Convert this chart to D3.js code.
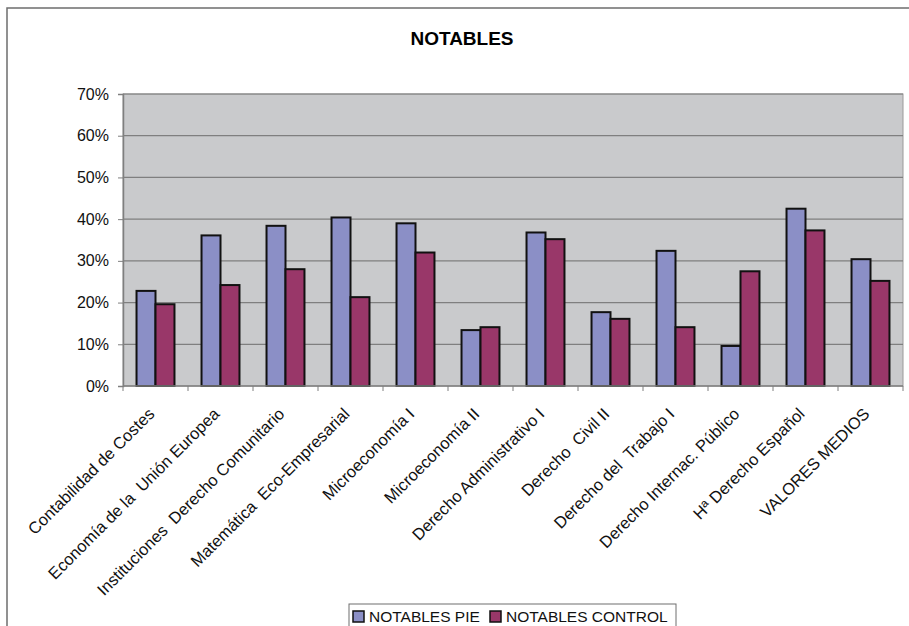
<!DOCTYPE html>
<html>
<head>
<meta charset="utf-8">
<script src="https://cdn.jsdelivr.net/npm/d3@7"></script>
<style>
  html, body { margin: 0; padding: 0; background: #fff; }
  svg { display: block; font-family: "Liberation Sans", Arial, sans-serif; }
  text { white-space: pre; }
</style>
</head>
<body>
<svg id="chart" width="909" height="626"></svg>
<script>
// Subjects shown on the x axis
const categories = [
  "Contabilidad de Costes",
  "Economía de la  Unión Europea",
  "Instituciones  Derecho Comunitario",
  "Matemática  Eco-Empresarial",
  "Microeconomía I",
  "Microeconomía II",
  "Derecho Administrativo I",
  "Derecho  Civil II",
  "Derecho del  Trabajo I",
  "Derecho Internac. Público",
  "Hª Derecho Español",
  "VALORES MEDIOS"
];
// Share of "notable" grades (%)
const notablesPie     = [22.8, 36.1, 38.4, 40.4, 39.0, 13.4, 36.8, 17.7, 32.4,  9.6, 42.5, 30.4];
const notablesControl = [19.6, 24.2, 28.0, 21.3, 32.0, 14.1, 35.2, 16.1, 14.1, 27.5, 37.3, 25.2];
const seriesNames = ["NOTABLES PIE", "NOTABLES CONTROL"];
const seriesColors = ["#8b8fc6", "#993769"];
const yTicks = [0, 10, 20, 30, 40, 50, 60, 70];

const svg = d3.select("#chart");

// outer chart frame
svg.append("rect")
  .attr("x", 7).attr("y", 8).attr("width", 920).attr("height", 640)
  .attr("fill", "none").attr("stroke", "#6e6e6e").attr("stroke-width", 1.5);

// title
svg.append("text")
  .attr("x", 462).attr("y", 45)
  .attr("text-anchor", "middle")
  .attr("font-size", 19).attr("font-weight", "bold")
  .text("NOTABLES");

const plot = { left: 123, right: 903, top: 94, bottom: 386 };

const x = d3.scaleBand()
  .domain(categories)
  .range([plot.left, plot.right])
  .paddingInner(0).paddingOuter(0);

const y = d3.scaleLinear()
  .domain([0, 70])
  .range([plot.bottom, plot.top]);

const barW = x.bandwidth() * 0.292;

// plot background
svg.append("rect")
  .attr("x", plot.left).attr("y", plot.top)
  .attr("width", plot.right - plot.left).attr("height", plot.bottom - plot.top)
  .attr("fill", "#c9cacc")
  .attr("stroke", "#9a9a9a").attr("stroke-width", 1);

// horizontal gridlines
svg.append("g")
  .selectAll("line")
  .data(yTicks.filter(t => t > 0))
  .join("line")
  .attr("x1", plot.left).attr("x2", plot.right)
  .attr("y1", d => y(d)).attr("y2", d => y(d))
  .attr("stroke", "#7f7f7f").attr("stroke-width", 1.2);

// bars
const groups = svg.append("g")
  .selectAll("g")
  .data(categories.map((c, i) => ({ c, vals: [notablesPie[i], notablesControl[i]] })))
  .join("g");

groups.selectAll("rect")
  .data(d => d.vals.map((v, k) => ({ c: d.c, v, k })))
  .join("rect")
  .attr("x", d => x(d.c) + x.bandwidth() / 2 - barW + d.k * barW)
  .attr("y", d => y(d.v))
  .attr("width", barW)
  .attr("height", d => y(0) - y(d.v))
  .attr("fill", d => seriesColors[d.k])
  .attr("stroke", "#111").attr("stroke-width", 2);

// y axis
const yAxis = svg.append("g")
  .attr("transform", `translate(${plot.left},0)`)
  .call(d3.axisLeft(y).tickValues(yTicks).tickFormat(d => d + "%").tickSize(5).tickPadding(9));
yAxis.select(".domain").attr("stroke", "#7f7f7f").attr("stroke-width", 1.5);
yAxis.selectAll(".tick line").attr("stroke", "#7f7f7f");
yAxis.selectAll("text").attr("font-size", 16).attr("fill", "#111")
  .attr("font-family", "Liberation Sans, Arial, sans-serif");

// x axis line and ticks at category boundaries
svg.append("line")
  .attr("x1", plot.left).attr("x2", plot.right)
  .attr("y1", plot.bottom).attr("y2", plot.bottom)
  .attr("stroke", "#7f7f7f").attr("stroke-width", 1.5);
const bounds = categories.map(c => x(c)).concat([x(categories[categories.length - 1]) + x.bandwidth()]);
svg.append("g").selectAll("line")
  .data(bounds)
  .join("line")
  .attr("x1", d => d).attr("x2", d => d)
  .attr("y1", plot.bottom).attr("y2", plot.bottom + 5)
  .attr("stroke", "#7f7f7f");

// rotated category labels
svg.append("g").selectAll("text")
  .data(categories)
  .join("text")
  .attr("transform", d => `translate(${x(d) + x.bandwidth() / 2},${plot.bottom + 29}) rotate(-45)`)
  .attr("text-anchor", "end")
  .attr("font-size", 16.5)
  .attr("fill", "#111")
  .text(d => d);

// legend
const lg = svg.append("g");
lg.append("rect")
  .attr("x", 349).attr("y", 604).attr("width", 327).attr("height", 40)
  .attr("fill", "#fff").attr("stroke", "#6e6e6e").attr("stroke-width", 1);
const legendX = [353, 490];
seriesNames.forEach((name, k) => {
  lg.append("rect")
    .attr("x", legendX[k]).attr("y", 611).attr("width", 11).attr("height", 11)
    .attr("fill", seriesColors[k]).attr("stroke", "#111").attr("stroke-width", 1.5);
  lg.append("text")
    .attr("x", legendX[k] + 16).attr("y", 622)
    .attr("font-size", 15.5).attr("fill", "#111")
    .text(name);
});
</script>
</body>
</html>
